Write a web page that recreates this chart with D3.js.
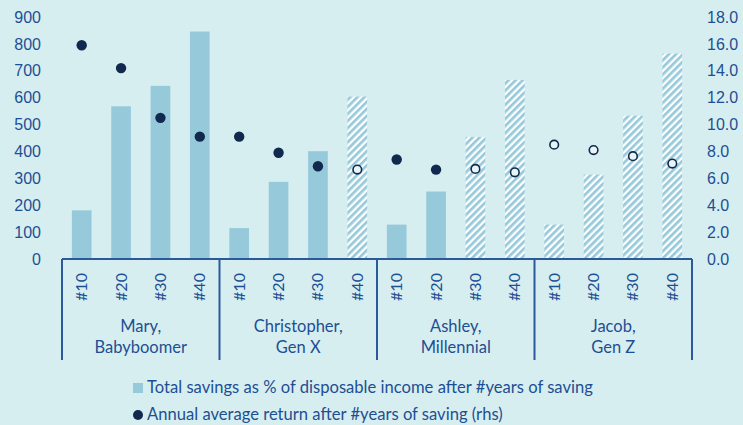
<!DOCTYPE html>
<html>
<head>
<meta charset="utf-8">
<script src="https://cdn.jsdelivr.net/npm/d3@7"></script>
<style>
    html, body { margin: 0; padding: 0; background: #d7eef1; }
    svg { display: block; font-family: Lato, "Open Sans", sans-serif; }
    .tick text { fill: #1d4f93; font-size: 16px; }
</style>
</head>
<body>
<svg id="chart" width="743" height="425"></svg>
<script>
// people / generations (one group of bars each)
const people = ["Mary,", "Christopher,", "Ashley,", "Jacob,"];
const generations = ["Babyboomer", "Gen X", "Millennial", "Gen Z"];
const years = ["#10", "#20", "#30", "#40"];

// total savings as % of disposable income (lhs), one per person x year
const savings = [181, 568, 644, 846, 115, 287, 401, 604, 128, 251, 454, 666, 128, 314, 533, 764];
// annual average return in % (rhs)
const returns = [15.9, 14.2, 10.5, 9.1, 9.1, 7.9, 6.9, 6.65, 7.4, 6.65, 6.7, 6.45, 8.5, 8.1, 7.65, 7.1];
// future (projected) values are hatched / hollow
const projected = [0, 0, 0, 0, 0, 0, 0, 1, 0, 0, 1, 1, 1, 1, 1, 1];

const leftTicks = [0, 100, 200, 300, 400, 500, 600, 700, 800, 900];
const rightTicks = [0, 2, 4, 6, 8, 10, 12, 14, 16, 18];

const legendItems = [
    "Total savings as % of disposable income after #years of saving",
    "Annual average return after #years of saving (rhs)"
];

const navy = "#11284f";
const blue = "#1d4f93";
const lineBlue = "#2a5a9a";
const barColor = "#96cadb";

const margin = {left: 62, right: 51, top: 17, bottom: 166};
const width = 743, height = 425;

const svg = d3.select("#chart");

const data = [];
people.forEach((p, gi) => {
    years.forEach((y, yi) => {
        const i = gi * years.length + yi;
        data.push({key: p + y, group: gi, year: y, savings: savings[i], ret: returns[i], proj: !!projected[i]});
    });
});

const x = d3.scaleBand()
    .domain(data.map(d => d.key))
    .range([margin.left, width - margin.right])
    .paddingInner(0.5)
    .paddingOuter(0.25);

const y = d3.scaleLinear().domain([0, 900]).range([height - margin.bottom, margin.top]);
const y2 = d3.scaleLinear().domain([0, 18]).range([height - margin.bottom, margin.top]);

// hatch pattern for projected bars
const defs = svg.append("defs");
const pat = defs.append("pattern")
    .attr("id", "hatch")
    .attr("patternUnits", "userSpaceOnUse")
    .attr("width", 5)
    .attr("height", 5)
    .attr("patternTransform", "rotate(45)");
pat.append("rect").attr("width", 5).attr("height", 5).attr("fill", "#ffffff");
pat.append("rect").attr("width", 2.7).attr("height", 5).attr("fill", barColor);

// axes (labels only)
svg.append("g")
    .attr("transform", `translate(41,0)`)
    .call(d3.axisLeft(y).tickValues(leftTicks).tickSize(0).tickPadding(0))
    .call(g => g.select(".domain").remove());

svg.append("g")
    .attr("transform", `translate(707,0)`)
    .call(d3.axisRight(y2).tickValues(rightTicks).tickSize(0).tickPadding(0).tickFormat(d3.format(".1f")))
    .call(g => g.select(".domain").remove());

// bars
svg.append("g")
    .selectAll("rect")
    .data(data)
    .join("rect")
    .attr("x", d => x(d.key))
    .attr("width", x.bandwidth())
    .attr("y", d => y(d.savings))
    .attr("height", d => y(0) - y(d.savings))
    .attr("fill", d => d.proj ? "url(#hatch)" : barColor);

// return dots
svg.append("g")
    .selectAll("circle")
    .data(data)
    .join("circle")
    .attr("cx", d => x(d.key) + x.bandwidth() / 2)
    .attr("cy", d => y2(d.ret))
    .attr("r", d => d.proj ? 4.3 : 5.2)
    .attr("fill", d => d.proj ? "#e8f5f7" : navy)
    .attr("stroke", d => d.proj ? navy : "none")
    .attr("stroke-width", 1.6);

// category box under the plot
const boxTop = y(0), boxBottom = 360;
const step = x.step();
const box = svg.append("g").attr("stroke", lineBlue).attr("stroke-width", 2);
box.append("line")
    .attr("x1", margin.left).attr("x2", width - margin.right)
    .attr("y1", boxTop).attr("y2", boxTop);

const groupEdges = d3.range(people.length + 1).map(i => margin.left + i * step * years.length);
box.selectAll("line.sep")
    .data(groupEdges)
    .join("line")
    .attr("class", "sep")
    .attr("x1", d => d).attr("x2", d => d)
    .attr("y1", boxTop).attr("y2", boxBottom);

// year labels, rotated
svg.append("g")
    .selectAll("text")
    .data(data)
    .join("text")
    .attr("transform", d => `translate(${x(d.key) + x.bandwidth() / 2 + 5.5},287) rotate(-90)`)
    .attr("text-anchor", "middle")
    .attr("fill", blue)
    .attr("font-size", 16)
    .text(d => d.year);

// group labels
const gl = svg.append("g")
    .selectAll("text")
    .data(people)
    .join("text")
    .attr("x", (d, i) => (groupEdges[i] + groupEdges[i + 1]) / 2)
    .attr("text-anchor", "middle")
    .attr("fill", blue)
    .attr("font-size", 16.5);
gl.append("tspan").attr("y", 332).text(d => d);
gl.append("tspan")
    .attr("x", (d, i) => (groupEdges[i] + groupEdges[i + 1]) / 2)
    .attr("y", 353)
    .text((d, i) => generations[i]);

// legend
const legend = svg.append("g");
legend.append("rect")
    .attr("x", 133).attr("y", 383).attr("width", 10).attr("height", 10)
    .attr("fill", barColor);
legend.append("circle")
    .attr("cx", 138).attr("cy", 415).attr("r", 5)
    .attr("fill", navy);
legend.selectAll("text")
    .data(legendItems)
    .join("text")
    .attr("x", 147)
    .attr("y", (d, i) => 393 + i * 27)
    .attr("fill", blue)
    .attr("font-size", 16.6)
    .text(d => d);
</script>
</body>
</html>
